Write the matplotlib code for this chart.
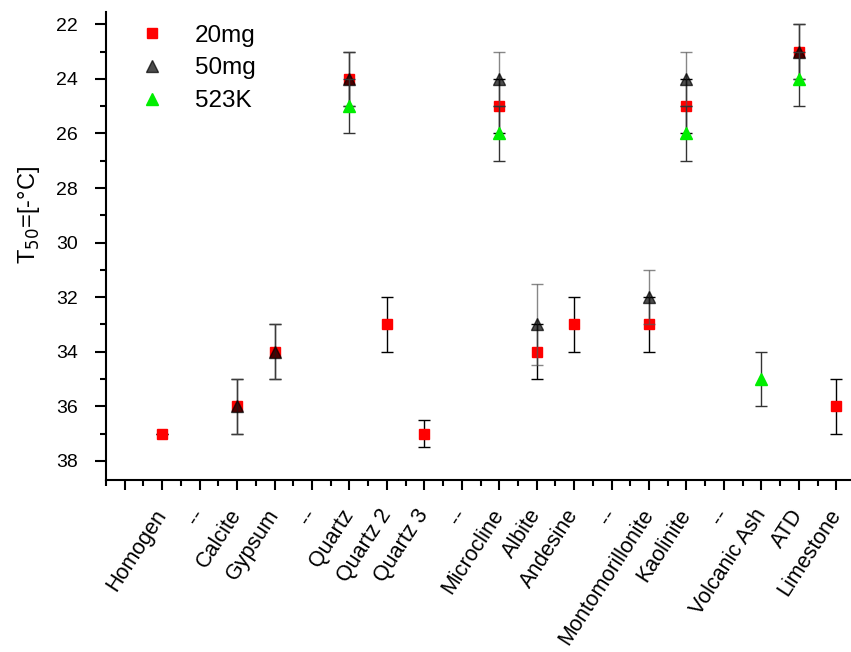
import numpy as np
import matplotlib
matplotlib.use('Agg')
import matplotlib.pyplot as plt
from matplotlib.ticker import MultipleLocator

plt.rcParams['font.family'] = ['Liberation Sans', 'DejaVu Sans']

# categories along x (position 0 left empty)
labels = ['', 'Homogen', '--', 'Calcite', 'Gypsum', '--', 'Quartz', 'Quartz 2',
          'Quartz 3', '--', 'Microcline', 'Albite', 'Andesine', '--',
          'Montomorillonite', 'Kaolinite', '--', 'Volcanic Ash', 'ATD', 'Limestone']

# 20mg series
x_20 = [1, 3, 4, 6, 7, 8, 10, 11, 12, 14, 15, 18, 19]
y_20 = [37, 36, 34, 24, 33, 37, 25, 34, 33, 33, 25, 23, 36]
e_20 = [0, 1, 1, 1, 1, 0.5, 1, 1, 1, 1, 1, 1, 1]

# 50mg series
x_50 = [3, 4, 6, 10, 11, 14, 15, 18]
y_50 = [36, 34, 24, 24, 33, 32, 24, 23]
e_50 = [1, 1, 1, 1, 1.5, 1, 1, 1]

# 523K series
x_523 = [6, 10, 15, 17, 18]
y_523 = [25, 26, 26, 35, 24]
e_523 = [1, 1, 1, 1, 1]

fig = plt.figure(figsize=(8.51, 6.52), dpi=100)
ax = fig.add_axes([106 / 851, 1 - 480 / 652, 749 / 851, (480 - 12) / 652])

ax.errorbar(x_20, y_20, yerr=e_20, fmt='s', color='red', ms=7.5, mec='red',
            ecolor='black', elinewidth=1, capsize=4.5, capthick=1, label='20mg', zorder=3)
ax.errorbar(x_50, y_50, yerr=e_50, fmt='^', color='black', alpha=0.7, ms=9,
            ecolor='#555555', elinewidth=1, capsize=4.5, capthick=1, label='50mg', zorder=4)
ax.errorbar(x_523, y_523, yerr=e_523, fmt='^', color='#00ee00', ms=9,
            ecolor='#333333', elinewidth=1, capsize=4.5, capthick=1, label='523K', zorder=5)

ax.set_xlim(-0.5, 19.5)
ax.set_ylim(38.7, 21.55)

ax.set_xticks(np.arange(len(labels)))
ax.set_xticklabels(labels, rotation=57, ha='right', va='center',
                   rotation_mode='anchor', fontsize=15.5)
ax.xaxis.set_minor_locator(MultipleLocator(0.5))
ax.yaxis.set_major_locator(MultipleLocator(2))
ax.yaxis.set_minor_locator(MultipleLocator(1))
ax.tick_params(axis='both', which='major', direction='out', length=8, width=1.5, labelsize=14)
ax.tick_params(axis='both', which='minor', direction='out', length=4.5, width=1.5)
ax.tick_params(axis='x', which='major', length=7.5, pad=15, labelsize=15.5)
ax.tick_params(axis='x', which='minor', length=4)
ax.tick_params(axis='y', pad=12)

for side in ['top', 'right']:
    ax.spines[side].set_visible(False)
for side in ['left', 'bottom']:
    ax.spines[side].set_linewidth(1.5)

ax.set_ylabel('T$_{50}$=[-°C]', fontsize=17)
ax.yaxis.set_label_coords(-64 / 749, 0.566)

handles, labs = ax.get_legend_handles_labels()
handles = [h[0] for h in handles]
ax.legend(handles, labs, loc='upper left', bbox_to_anchor=(0.008, 1.02), frameon=False,
          fontsize=17.5, handletextpad=1.0, labelspacing=0.45, handlelength=1.5)

fig.savefig('out.png', dpi=100)
